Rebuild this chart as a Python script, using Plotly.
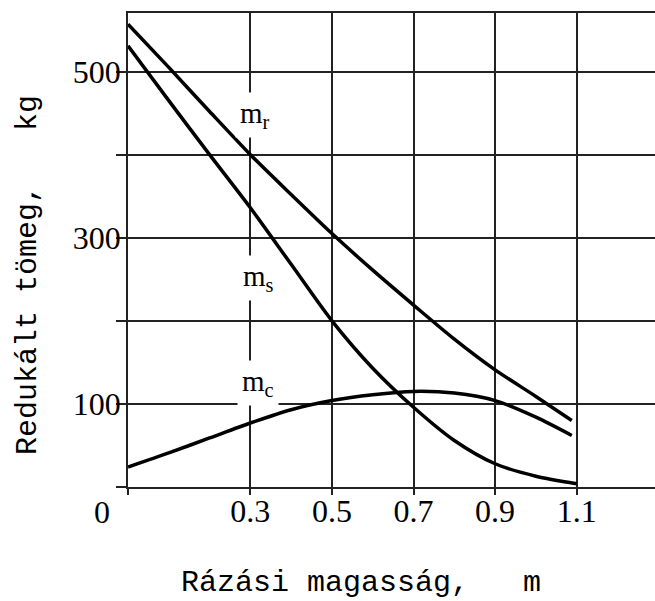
import plotly.graph_objects as go

# x: rázási magasság (m)
x_r = [0.0, 0.1, 0.2, 0.3, 0.4, 0.5, 0.6, 0.7, 0.8, 0.9, 1.0, 1.088]
m_r = [557, 505, 452, 400, 352, 305, 261, 219, 178, 141, 109, 80]

x_s = [0.0, 0.1, 0.2, 0.3, 0.4, 0.5, 0.6, 0.7, 0.8, 0.9, 1.0, 1.1]
m_s = [531, 465, 400, 336, 268, 200, 143, 96, 56, 28, 13, 4]

x_c = [0.0, 0.1, 0.2, 0.3, 0.4, 0.5, 0.6, 0.7, 0.8, 0.9, 1.0, 1.088]
m_c = [24, 41, 59, 77, 93, 104, 111, 115, 113, 104, 84, 62]

x_ticks = [0.0, 0.3, 0.5, 0.7, 0.9, 1.1]
x_ticklabels = ["", "0.3", "0.5", "0.7", "0.9", "1.1"]
y_ticks = [0, 100, 200, 300, 400, 500]
y_ticklabels = ["", "100", "", "300", "", "500"]

labels = [("m<sub>r</sub>", 0.311, 448), ("m<sub>s</sub>", 0.319, 252), ("m<sub>c</sub>", 0.319, 125)]

serif = "Liberation Serif, Times New Roman, serif"
mono = "Liberation Mono, Courier New, monospace"

fig = go.Figure()
for xs, ys in [(x_r, m_r), (x_s, m_s), (x_c, m_c)]:
    fig.add_trace(go.Scatter(x=xs, y=ys, mode="lines",
                             line=dict(color="black", width=3.5, shape="spline", smoothing=0.8),
                             showlegend=False, hoverinfo="skip"))

for txt, xx, yy in labels:
    fig.add_annotation(x=xx, y=yy, text=txt, showarrow=False, bgcolor="white",
                       borderpad=4, font=dict(family=serif, size=29, color="black"))

fig.add_annotation(xref="paper", yref="paper", x=-0.049, y=-0.053, text="0", showarrow=False,
                   xanchor="center", yanchor="middle",
                   font=dict(family=serif, size=32, color="black"))

fig.add_annotation(xref="paper", yref="paper", x=0.442, y=-0.203, xanchor="center", yanchor="middle",
                   text="Rázási magasság,   m", showarrow=False,
                   font=dict(family=mono, size=30, color="black"))
fig.add_annotation(xref="paper", yref="paper", x=-0.19, xanchor="center", y=0.447, yanchor="middle",
                   text="Redukált tömeg,   kg", textangle=-90, showarrow=False,
                   font=dict(family=mono, size=30, color="black"))

fig.update_xaxes(range=[0, 1.292], tickvals=x_ticks, ticktext=x_ticklabels,
                 showgrid=True, gridcolor="#222", gridwidth=1.5,
                 showline=True, linecolor="#222", linewidth=1.5, mirror=True,
                 ticks="outside", ticklen=6, tickcolor="#222", tickwidth=1.5,
                 ticklabelstandoff=-11,
                 zeroline=False, tickfont=dict(family=serif, size=32, color="black"))
fig.update_yaxes(range=[0, 570.5], tickvals=y_ticks, ticktext=y_ticklabels,
                 showgrid=True, gridcolor="#222", gridwidth=1.5,
                 showline=True, linecolor="#222", linewidth=1.5,
                 ticks="outside", ticklen=10, tickcolor="#222", tickwidth=1.5,
                 ticklabelstandoff=-11,
                 zeroline=False, tickfont=dict(family=serif, size=32, color="black"))

fig.update_layout(width=655, height=601, margin=dict(l=128, r=0, t=13, b=114),
                  plot_bgcolor="white", paper_bgcolor="white")
fig.write_html("out.html", config={"displayModeBar": False},
               post_script="document.body.style.margin='0';document.body.style.overflow='hidden';")
